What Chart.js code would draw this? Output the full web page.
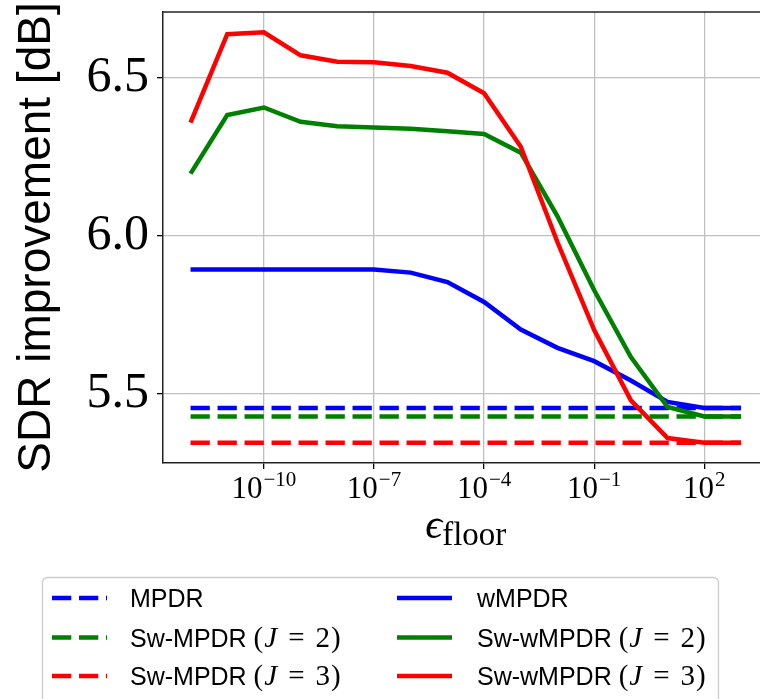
<!DOCTYPE html>
<html>
<head>
<meta charset="utf-8">
<script src="https://cdn.jsdelivr.net/npm/chart.js@4.4.1/dist/chart.umd.min.js"></script>
<style>
  html, body { margin: 0; padding: 0; background: #fff; overflow: hidden; }
  #wrap { position: relative; width: 780px; height: 699px; }
</style>
</head>
<body>
<div id="wrap"><canvas id="chart"></canvas></div>
<script>
// ----- data -----
// x: epsilon_floor (log scale)
const epsFloor = [1e-12, 1e-11, 1e-10, 1e-9, 1e-8, 1e-7, 1e-6, 1e-5, 1e-4, 1e-3, 1e-2, 1e-1, 1e0, 1e1, 1e2, 1e3];

// SDR improvement [dB]
const mpdr     = [5.456, 5.456, 5.456, 5.456, 5.456, 5.456, 5.456, 5.456, 5.456, 5.456, 5.456, 5.456, 5.456, 5.456, 5.456, 5.456];
const swMpdrJ2 = [5.429, 5.429, 5.429, 5.429, 5.429, 5.429, 5.429, 5.429, 5.429, 5.429, 5.429, 5.429, 5.429, 5.429, 5.429, 5.429];
const swMpdrJ3 = [5.346, 5.346, 5.346, 5.346, 5.346, 5.346, 5.346, 5.346, 5.346, 5.346, 5.346, 5.346, 5.346, 5.346, 5.346, 5.346];
const wMpdr    = [5.894, 5.894, 5.894, 5.894, 5.894, 5.894, 5.884, 5.854, 5.791, 5.704, 5.646, 5.604, 5.543, 5.475, 5.456, 5.456];
const swWMpdrJ2 = [6.197, 6.382, 6.406, 6.361, 6.347, 6.343, 6.339, 6.331, 6.322, 6.263, 6.062, 5.828, 5.617, 5.459, 5.429, 5.429];
const swWMpdrJ3 = [6.358, 6.638, 6.644, 6.571, 6.551, 6.549, 6.537, 6.516, 6.451, 6.282, 5.980, 5.702, 5.480, 5.361, 5.346, 5.346];

// axes
const xTicks = [1e-10, 1e-7, 1e-4, 1e-1, 1e2];
const yTicks = [5.5, 6.0, 6.5];
const xRange = [1.778e-13, 5623];
const yRange = [5.282, 6.708];

// legend order (column-major, two columns)
const seriesLabels = ['MPDR', 'Sw-MPDR (J = 2)', 'Sw-MPDR (J = 3)', 'wMPDR', 'Sw-wMPDR (J = 2)', 'Sw-wMPDR (J = 3)'];
const seriesValues = [mpdr, swMpdrJ2, swMpdrJ3, wMpdr, swWMpdrJ2, swWMpdrJ3];
const seriesColors = ['#0000ff', '#008000', '#ff0000', '#0000ff', '#008000', '#ff0000'];
const seriesDashed = [true, true, true, false, false, false];

const SANS = '"Liberation Sans", Arial, sans-serif';
const SERIF = '"Liberation Serif", "Times New Roman", serif';

const datasets = seriesLabels.map((label, i) => ({
  label,
  data: epsFloor.map((x, j) => ({ x, y: seriesValues[i][j] })),
  borderColor: seriesColors[i],
  borderWidth: 4.5,
  borderDash: seriesDashed[i] ? [19.3, 7.7] : [],
  pointRadius: 0,
  tension: 0,
  fill: false,
  order: seriesLabels.length - i  // later series on top
}));

// legend label: sans text, then "(J = n)" set like math
function drawLabel(ctx, text, x, y) {
  const m = text.match(/^(.*) \(J = (\d)\)$/);
  ctx.textAlign = 'left';
  ctx.font = `25px ${SANS}`;
  if (!m) {
    ctx.fillText(text, x, y);
    return;
  }
  const parts = [
    [m[1] + ' ', `25px ${SANS}`, 0],
    ['(', `29px ${SERIF}`, 1],
    ['J', `italic 29px ${SERIF}`, 11],
    ['=', `29px ${SERIF}`, 11],
    [m[2], `29px ${SERIF}`, 1],
    [')', `29px ${SERIF}`, 0]
  ];
  let cx = x;
  parts.forEach(([t, f, gap]) => {
    ctx.font = f;
    ctx.fillText(t, cx, y);
    cx += ctx.measureText(t).width + gap;
  });
}

// extra drawing: top spine, 10^n tick labels, axis titles, legend
const decorations = {
  id: 'decorations',
  afterDraw(chart) {
    const { ctx, chartArea: a, scales: { x } } = chart;
    ctx.save();

    // top spine
    ctx.strokeStyle = '#222';
    ctx.lineWidth = 1.5;
    ctx.beginPath();
    ctx.moveTo(a.left, a.top);
    ctx.lineTo(a.right, a.top);
    ctx.stroke();

    // x tick labels
    ctx.fillStyle = '#000';
    ctx.textBaseline = 'alphabetic';
    ctx.textAlign = 'left';
    x.ticks.forEach(t => {
      const px = x.getPixelForValue(t.value);
      const exp = String(Math.round(Math.log10(t.value))).replace('-', '\u2212');
      ctx.font = `31px ${SERIF}`;
      const wb = ctx.measureText('10').width;
      ctx.font = `21px ${SERIF}`;
      const we = ctx.measureText(exp).width;
      const x0 = px - (wb + 1 + we) / 2;
      ctx.font = `31px ${SERIF}`;
      ctx.fillText('10', x0, a.bottom + 35);
      ctx.font = `21px ${SERIF}`;
      ctx.fillText(exp, x0 + wb + 1, a.bottom + 23);
    });

    // x title: epsilon_floor
    const cx = (a.left + a.right) / 2;
    ctx.font = `italic 42px ${SERIF}`;
    const we = ctx.measureText('\u03f5').width;
    ctx.font = `33px ${SERIF}`;
    const wf = ctx.measureText('floor').width;
    const tx = cx - (we + wf) / 2;
    ctx.font = `italic 42px ${SERIF}`;
    ctx.fillText('\u03f5', tx, a.bottom + 75);
    ctx.font = `33px ${SERIF}`;
    ctx.fillText('floor', tx + we, a.bottom + 82);

    // y title
    ctx.save();
    ctx.translate(50, (a.top + a.bottom) / 2);
    ctx.rotate(-Math.PI / 2);
    ctx.textAlign = 'center';
    ctx.font = `46px ${SANS}`;
    ctx.fillText('SDR improvement [dB]', 0, 0);
    ctx.restore();

    // legend
    ctx.fillStyle = 'rgba(255,255,255,0.8)';
    ctx.strokeStyle = '#cccccc';
    ctx.lineWidth = 1.3;
    ctx.beginPath();
    ctx.roundRect(42.5, 577.5, 676, 140, 5);
    ctx.fill();
    ctx.stroke();

    const rowY = [598, 637.5, 676];
    const colHandle = [52, 397];
    const handleLen = 55;
    const colText = [130, 477];
    chart.data.datasets.forEach((ds, i) => {
      const col = Math.floor(i / 3), row = i % 3;
      ctx.strokeStyle = ds.borderColor;
      ctx.lineWidth = ds.borderWidth;
      ctx.lineCap = 'butt';
      ctx.setLineDash(ds.borderDash);
      ctx.beginPath();
      ctx.moveTo(colHandle[col], rowY[row]);
      ctx.lineTo(colHandle[col] + handleLen, rowY[row]);
      ctx.stroke();
      ctx.setLineDash([]);
      ctx.fillStyle = '#000';
      drawLabel(ctx, ds.label, colText[col], rowY[row] + 9);
    });

    ctx.restore();
  }
};

new Chart(document.getElementById('chart'), {
  type: 'line',
  data: { datasets },
  options: {
    responsive: true,
    maintainAspectRatio: false,
    animation: false,
    layout: { padding: { left: 0, top: 12, right: 11.5, bottom: 0 } },
    plugins: { legend: { display: false }, tooltip: { enabled: false } },
    scales: {
      x: {
        type: 'logarithmic',
        min: xRange[0],
        max: xRange[1],
        afterBuildTicks: s => { s.ticks = xTicks.map(v => ({ value: v })); },
        afterFit: s => { s.height = 236; s.paddingLeft = 0; s.paddingRight = 0; },
        ticks: { display: false },
        grid: { color: '#c0c0c0', lineWidth: 1.3, tickLength: 6, tickColor: '#000', tickWidth: 1.3 },
        border: { color: '#222', width: 1.5 }
      },
      y: {
        min: yRange[0],
        max: yRange[1],
        afterBuildTicks: s => { s.ticks = yTicks.map(v => ({ value: v })); },
        afterFit: s => { s.width = 163; s.paddingTop = 0; s.paddingBottom = 0; },
        ticks: {
          font: { family: SERIF, size: 50 },
          color: '#000',
          padding: 8,
          callback: v => Number(v).toFixed(1)
        },
        grid: { color: '#c0c0c0', lineWidth: 1.3, tickLength: 6, tickColor: '#000', tickWidth: 1.3 },
        border: { color: '#222', width: 1.5 }
      }
    }
  },
  plugins: [decorations]
});
</script>
</body>
</html>
